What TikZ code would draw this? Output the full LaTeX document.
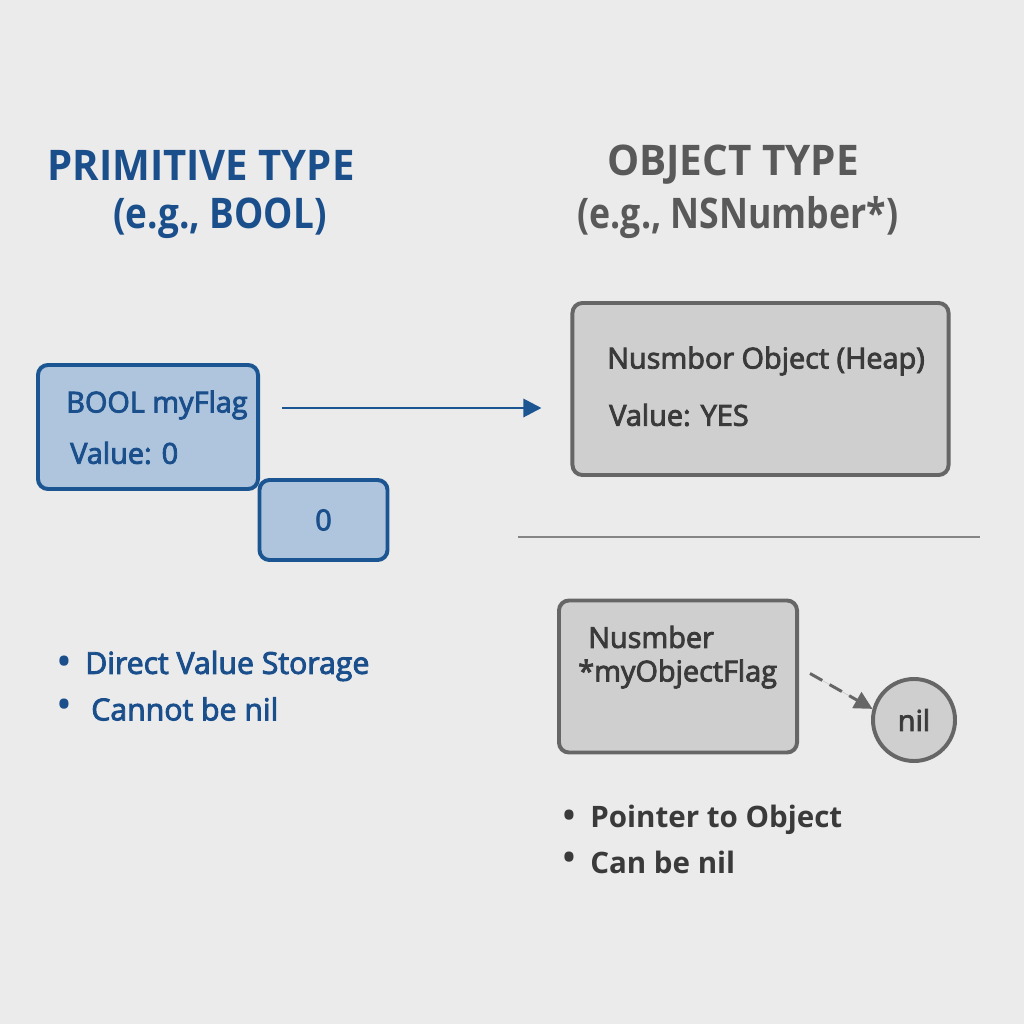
\documentclass[tikz,border=0pt]{standalone}
\usepackage{fontspec}
\setmainfont{Open Sans}
\newfontfamily\medfont[FakeBold=3]{Open Sans}
\usetikzlibrary{arrows.meta,shapes,calc}

\definecolor{bgcol}{HTML}{EBEBEB}
\definecolor{primline}{HTML}{1B5592}
\definecolor{primfill}{HTML}{AEC5DD}
\definecolor{primtext}{HTML}{1A4F8C}
\definecolor{objline}{HTML}{666666}
\definecolor{objfill}{HTML}{CFCFCF}
\definecolor{objtext}{HTML}{3A3A3A}
\definecolor{objtitle}{HTML}{595959}

\newcommand{\bodyfont}{\fontsize{20.5}{24}\selectfont\medfont}
\newcommand{\notefont}{\fontsize{21.5}{26}\selectfont\medfont}
\newcommand{\titlefont}{\fontsize{30}{36}\selectfont\bfseries}
\newcommand{\dotfont}{\fontsize{30}{30}\selectfont}

\begin{document}
\begin{tikzpicture}[x=0.025cm,y=-0.025cm,
  primbox/.style={draw=primline, fill=primfill, line width=2.8pt, rounded corners=0.25cm, inner sep=0pt},
  objbox/.style={draw=objline, fill=objfill, line width=2.8pt, rounded corners=0.25cm, inner sep=0pt},
  title/.style={font=\titlefont, inner sep=0pt, xscale=0.95, transform shape},
  label/.style={font=\bodyfont, inner sep=0pt, anchor=west},
  bullet/.style={font=\dotfont, inner sep=0pt},
  ptr/.style={line width=2.1pt, -{Triangle[length=0.45cm,width=0.45cm]}}]

\fill[bgcol] (0,0) rectangle (1024,1024);
\useasboundingbox (0,0) rectangle (1024,1024);

% headings
\draw (201,165) node[title, text=primtext] (primhead) {PRIMITIVE TYPE};
\draw (220,218) node[title, text=primtext, xscale=0.92] (primsub) {(e.g., BOOL)};
\draw (733,165) node[title, text=objtitle, xscale=1.01] (objhead) {OBJECT TYPE};
\draw (738,218) node[title, text=objtitle, xscale=0.89] (objsub) {(e.g., NSNumber*)};

% primitive side
\draw (148,427) node[primbox, minimum width=5.5cm, minimum height=3.1cm] (flag) {};
\draw (66,405) node[label, text=primtext] (flagname) {BOOL myFlag};
\draw (70,453) node[label, text=primtext] (flagval) {Value: 0};
\draw (323.5,520) node[primbox, minimum width=3.2cm, minimum height=2cm, font=\bodyfont, text=primtext] (zero) {0};

% object side
\draw (760.5,389) node[objbox, minimum width=9.4cm, minimum height=4.3cm] (heap) {};
\draw (607,361) node[label, text=objtext] (heapname) {Nusmbor Object (Heap)};
\draw (609,415) node[label, text=objtext] (heapval) {Value: YES};

\draw[objline!80, line width=1.2pt] (518,537) -- (980,537);

\draw (678,676.5) node[objbox, minimum width=5.95cm, minimum height=3.8cm] (objflag) {};
\draw (588,637) node[label, text=objtext] (objname) {Nusmber};
\draw (578,674) node[label, text=objtext] (objptr) {*myObjectFlag};
\draw (914,720) node[circle, draw=objline, fill=objfill, line width=2.8pt, minimum size=2.05cm, inner sep=0pt, font=\bodyfont, text=objtext] (nil) {nil};

% connectors
\draw[ptr, draw=primline, fill=primline] ([shift={(22,-19)}]flag.east) -- ([shift={(-29,19)}]heap.west);
\draw[ptr, draw=objline, fill=objline, dash pattern=on 10pt off 6pt] ([shift={(11,-3)}]objflag.east) -- (nil.165);

% notes
\draw (64,666) node[bullet, text=primtext] (primdot1) {•};
\draw (85,666) node[label, text=primtext, font=\notefont] (primnote1) {Direct Value Storage};
\draw (64,709) node[bullet, text=primtext] (primdot2) {•};
\draw (91,709) node[label, text=primtext, font=\notefont] (primnote2) {Cannot be nil};
\draw (569,820) node[bullet, text=objtext] (objdot1) {•};
\draw (590,820) node[label, text=objtext, font=\fontsize{21}{26}\selectfont\bfseries] (objnote1) {Pointer to Object};
\draw (569,862) node[bullet, text=objtext] (objdot2) {•};
\draw (590,862) node[label, text=objtext, font=\fontsize{21}{26}\selectfont\bfseries] (objnote2) {Can be nil};
\end{tikzpicture}
\end{document}
